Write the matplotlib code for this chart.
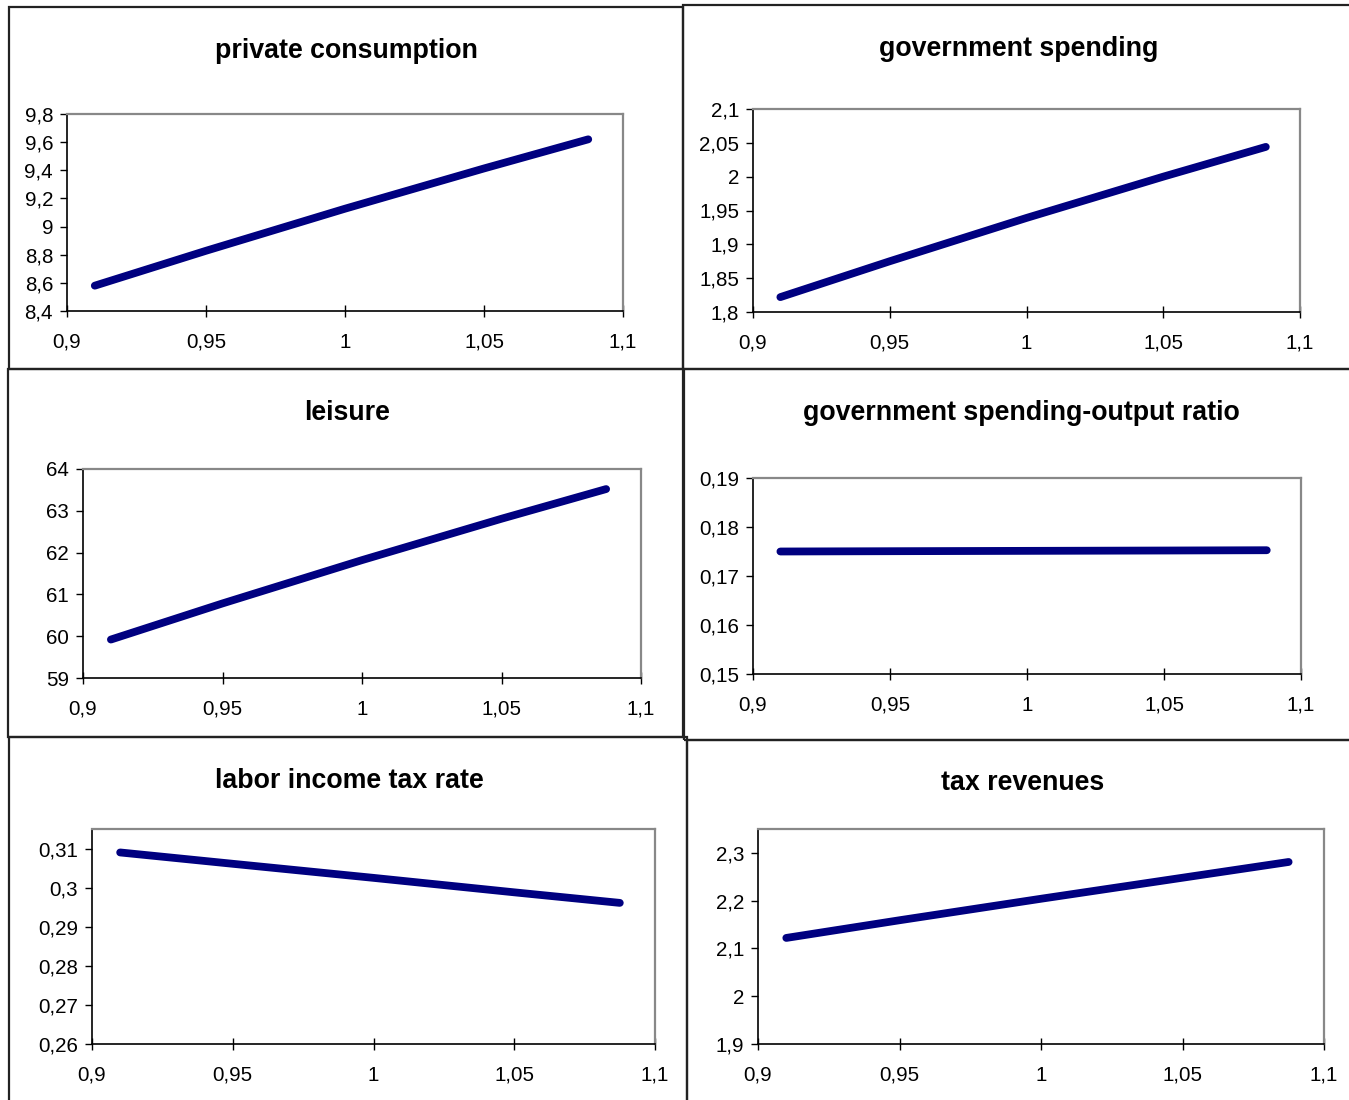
import matplotlib
matplotlib.use("Agg")
import matplotlib.pyplot as plt
from matplotlib.patches import Rectangle

plt.rcParams['font.family'] = ['Liberation Sans', 'DejaVu Sans']

# Shared x grid for every panel
x_vals = [0.91, 0.95, 1.0, 1.05, 1.0875]

# Series values
consumption = [8.58, 8.828, 9.127, 9.413, 9.62]
gov_spending = [1.822, 1.875, 1.939, 2.000, 2.044]
leisure = [59.92, 60.784, 61.82, 62.81, 63.52]
gov_ratio = [0.1750, 0.17506, 0.17513, 0.1752, 0.17526]
tax_rate = [0.3090, 0.3061, 0.3025, 0.2988, 0.2961]
tax_revenues = [2.122, 2.159, 2.204, 2.248, 2.281]

titles = ["private consumption", "government spending", "leisure",
          "government spending-output ratio", "labor income tax rate", "tax revenues"]

x_ticks = [0.9, 0.95, 1.0, 1.05, 1.1]
y_ticks = [
    [8.4, 8.6, 8.8, 9.0, 9.2, 9.4, 9.6, 9.8],
    [1.8, 1.85, 1.9, 1.95, 2.0, 2.05, 2.1],
    [59, 60, 61, 62, 63, 64],
    [0.15, 0.16, 0.17, 0.18, 0.19],
    [0.26, 0.27, 0.28, 0.29, 0.30, 0.31],
    [1.9, 2.0, 2.1, 2.2, 2.3],
]
y_limits = [(8.4, 9.8), (1.8, 2.1), (59, 64), (0.15, 0.19), (0.26, 0.315), (1.9, 2.35)]

W, H = 1349, 1100
fig = plt.figure(figsize=(W / 100, H / 100), dpi=100)


def box(l, t, r, b):
    # pixel box (from top-left) -> figure fraction [left, bottom, width, height]
    return [l / W, 1 - b / H, (r - l) / W, (b - t) / H]


# panel frames: left, top, right, bottom in pixels
frames = [
    (9, 7, 683, 369),
    (683, 5, 1352, 369),
    (8, 369, 683, 737),
    (684, 369, 1352, 740),
    (9, 737, 687, 1103),
    (687, 740, 1352, 1103),
]
# plot areas
areas = [
    (67, 114, 623, 311),
    (753, 109, 1300, 312),
    (83, 469, 641, 678),
    (753, 478, 1301, 674),
    (92, 829, 655, 1044),
    (758, 829, 1324, 1044),
]
title_pos = [(346, 51), (1019, 49), (347, 413), (1021, 413), (349, 781), (1023, 783)]

series = [consumption, gov_spending, leisure, gov_ratio, tax_rate, tax_revenues]


def fmt(v):
    return f"{v:g}".replace('.', ',')


for i in range(6):
    l, t, r, b = frames[i]
    fig.add_artist(Rectangle((l / W, 1 - b / H), (r - l) / W, (b - t) / H,
                             transform=fig.transFigure, fill=False,
                             edgecolor='#222222', linewidth=1.6))
    tx, ty = title_pos[i]
    fig.text(tx / W, 1 - ty / H, titles[i], ha='center', va='center',
             fontsize=19.3, fontweight='bold')

    ax = fig.add_axes(box(*areas[i]))
    ax.plot(x_vals, series[i], color='#000080', linewidth=5.6,
            solid_capstyle='round', solid_joinstyle='round')
    ax.set_xlim(0.9, 1.1)
    ax.set_ylim(*y_limits[i])
    ax.set_xticks(x_ticks)
    ax.set_xticklabels([fmt(v) for v in x_ticks])
    ax.set_yticks(y_ticks[i])
    ax.set_yticklabels([fmt(v) for v in y_ticks[i]])
    for side in ['top', 'right']:
        ax.spines[side].set_color('#888888')
        ax.spines[side].set_linewidth(1.6)
    for side in ['left', 'bottom']:
        ax.spines[side].set_color('black')
        ax.spines[side].set_linewidth(1.2)
    ax.tick_params(axis='x', direction='inout', length=9, width=1, pad=11, labelsize=14.8)
    ax.tick_params(axis='y', direction='out', length=5, width=1, pad=5, labelsize=14.8)

fig.savefig("out.png", dpi=100)
